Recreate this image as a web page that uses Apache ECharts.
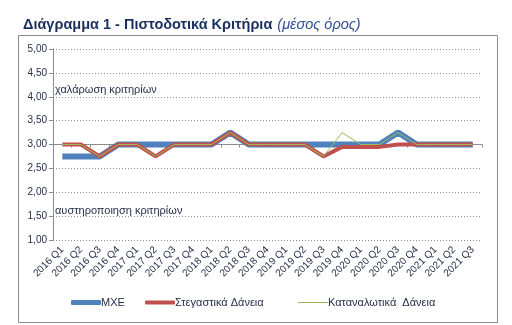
<!DOCTYPE html>
<html>
<head>
<meta charset="utf-8">
<script src="https://cdn.jsdelivr.net/npm/echarts@6/dist/echarts.min.js"></script>
<style>
  html, body { margin: 0; padding: 0; background: #fff; }
  #chart { width: 512px; height: 325px; }
</style>
</head>
<body>
<div id="chart"></div>
<script>
// Quarterly survey periods
const categories = [
  '2016 Q1', '2016 Q2', '2016 Q3', '2016 Q4',
  '2017 Q1', '2017 Q2', '2017 Q3', '2017 Q4',
  '2018 Q1', '2018 Q2', '2018 Q3', '2018 Q4',
  '2019 Q1', '2019 Q2', '2019 Q3', '2019 Q4',
  '2020 Q1', '2020 Q2', '2020 Q3', '2020 Q4',
  '2021 Q1', '2021 Q2', '2021 Q3'
];

// Average credit standards score per segment
const mxe = [2.75, 2.75, 2.75, 3, 3, 3, 3, 3, 3, 3.25, 3, 3, 3, 3, 3, 3, 3, 3, 3.25, 3, 3, 3, 3];
const housing = [3, 3, 2.75, 3, 3, 2.75, 3, 3, 3, 3.25, 3, 3, 3, 3, 2.75, 2.95, 2.95, 2.95, 3, 3, 3, 3, 3];
const consumer = [3, 3, 2.75, 3, 3, 2.75, 3, 3, 3, 3.25, 3, 3, 3, 3, 2.75, 3.25, 3, 3, 3.25, 3, 3, 3, 3];

const seriesNames = ['ΜΧΕ', 'Στεγαστικά Δάνεια', 'Καταναλωτικά  Δάνεια'];
const seriesColors = ['#4F81BD', '#C0504D', '#9BBB59'];
const seriesWidths = [6, 4, 1];
const yTicks = { min: 1, max: 5, step: 0.5 };
const crossValue = 3; // horizontal axis crosses the value axis here

const chart = echarts.init(document.getElementById('chart'), null, { renderer: 'canvas' });

const gridTop = 49, gridBottom = 85;
const plotH = 325 - gridTop - gridBottom;
const crossOffset = -plotH * (crossValue - yTicks.min) / (yTicks.max - yTicks.min);

const font = 'Liberation Sans, Arial, sans-serif';
const textColor = '#1F2A44';

// one legend block per series so each swatch keeps its own stroke thickness
const legendLeft = [71, 145, 298];
const legendIconH = [5, 4, 1];
const legends = seriesNames.map((name, i) => ({
  left: legendLeft[i],
  top: 297,
  padding: 0,
  icon: i === 2 ? 'rect' : 'roundRect',
  itemWidth: 30,
  itemHeight: legendIconH[i],
  textStyle: { fontFamily: font, fontSize: 11, color: textColor, padding: [0, 0, 0, -5] },
  data: [name]
}));

chart.setOption({
  animation: false,
  textStyle: { fontFamily: font },
  title: {
    left: 18,
    top: 11,
    text: '{b|Διάγραμμα 1 - Πιστοδοτικά Κριτήρια} {i|(μέσος όρος)}',
    textStyle: {
      rich: {
        b: { fontFamily: font, fontSize: 14.5, fontWeight: 'bold', color: '#1B2F5E' },
        i: { fontFamily: font, fontSize: 14.5, fontWeight: 'normal', fontStyle: 'italic', color: '#2E4F8F' }
      }
    }
  },
  graphic: [
    {
      type: 'rect',
      shape: { x: 18.5, y: 35.5, width: 479, height: 287 },
      style: { fill: 'none', stroke: '#8C8C8C', lineWidth: 1 },
      silent: true, z: -1
    },
    {
      type: 'text', left: 55, top: 84,
      style: { text: 'χαλάρωση κριτηρίων', font: '11px ' + font, fill: textColor }
    },
    {
      type: 'text', left: 55, top: 205,
      style: { text: 'αυστηροποιηση κριτηρίων', font: '11px ' + font, fill: textColor }
    }
  ],
  legend: legends,
  grid: { left: 53, right: 30, top: gridTop, bottom: gridBottom },
  xAxis: [
    {
      type: 'category',
      data: categories,
      boundaryGap: true,
      axisLine: { show: false },
      axisTick: { show: false },
      axisLabel: {
        rotate: 45,
        margin: 8,
        interval: 0,
        fontFamily: font,
        fontSize: 10,
        color: textColor
      }
    },
    {
      type: 'category',
      data: categories,
      position: 'bottom',
      offset: crossOffset,
      boundaryGap: true,
      axisLine: { show: true, lineStyle: { color: '#8C8C8C', width: 1 } },
      axisTick: { show: true, length: 3, interval: 0, lineStyle: { color: '#8C8C8C' } },
      axisLabel: { show: false }
    }
  ],
  yAxis: {
    type: 'value',
    min: yTicks.min,
    max: yTicks.max,
    interval: yTicks.step,
    axisLine: { show: true, lineStyle: { color: '#8C8C8C', width: 1 } },
    axisTick: { show: true, length: 4, lineStyle: { color: '#8C8C8C' } },
    axisLabel: {
      margin: 6,
      fontFamily: font,
      fontSize: 10,
      color: textColor,
      formatter: v => v.toFixed(2).replace('.', ',')
    },
    splitLine: { show: true, lineStyle: { color: '#8C8C8C', type: [1, 2], width: 1 } }
  },
  series: [mxe, housing, consumer].map((values, i) => ({
    name: seriesNames[i],
    type: 'line',
    data: values,
    symbol: 'none',
    lineStyle: { color: seriesColors[i], width: seriesWidths[i] },
    itemStyle: { color: seriesColors[i] }
  }))
});
</script>
</body>
</html>
